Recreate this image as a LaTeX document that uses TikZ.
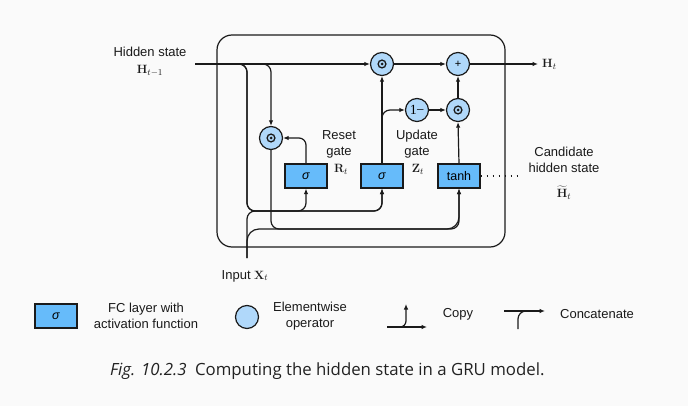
\documentclass[tikz,border=0pt]{standalone}
\usepackage[no-math]{fontspec}
\setmainfont{Liberation Sans}
\newfontfamily\capfont{Open Sans}
\newfontfamily\serifnum{Liberation Serif}
\usetikzlibrary{arrows.meta}
\definecolor{bg}{HTML}{FAFAFA}
\definecolor{fcfill}{HTML}{66BBFA}
\definecolor{opfill}{HTML}{B0D8FA}
\definecolor{ink}{HTML}{1A1A1A}
\definecolor{capink}{HTML}{222222}
\tikzset{
  wire/.style={line width=1.2pt, draw=ink},
  arr/.style={wire, -{Latex[length=5.5pt,width=4.5pt]}},
  fc/.style={draw=ink, line width=1.2pt, fill=fcfill, minimum width=42pt, minimum height=24pt, inner sep=0pt, font=\fontsize{12.5}{12.5}\selectfont},
  op/.style={circle, draw=ink, line width=1.2pt, fill=opfill, minimum size=23pt, inner sep=0pt, font=\fontsize{12}{12}\selectfont},
  mul/.style={op, path picture={
      \draw[ink, line width=1.3pt] (path picture bounding box.center) circle (3.9pt);
      \fill[ink] (path picture bounding box.center) circle (1.5pt);}},
  lbl/.style={text=ink, align=center, font=\fontsize{13}{16}\selectfont, inner sep=0pt},
}
\begin{document}
\begin{tikzpicture}[x=1pt, y=-1pt]
\useasboundingbox (0,0) rectangle (688,406);
\fill[bg] (0,0) rectangle (688,406);

% cell outline
\draw[wire, rounded corners=15pt] (217,35) rectangle (505,247);

% gates and candidate layer
\node[fc] (rsig) at (306,176) {\itshape σ};
\node[fc] (zsig) at (382,176) {\itshape σ};
\node[fc] (tanh) at (459,176) {tanh};

% elementwise operators
\node[mul] (rmul) at (271,138) {};
\node[mul] (zmul) at (382,64) {};
\node[op] (plus) at (458,64) {\fontsize{11}{11}\selectfont +};
\node[op] (omz) at (417,110) {\serifnum\fontsize{14}{14}\selectfont 1\kern-0.5pt−};
\node[mul] (cmul) at (458,110) {};

% free ends
\coordinate (hin) at (195,64);
\coordinate (hout) at (538,64);
\coordinate (xin) at (247,258);
\coordinate (dotend) at (520,176);

% previous hidden state
\draw[arr] (hin) -- (zmul);
\draw[arr, rounded corners=8pt] (hin) -| (rmul.north);
\draw[arr, rounded corners=8pt] (hin) -| (247,211) -| (rsig.south);
\draw[arr, rounded corners=8pt] (hin) -| (247,211) -| (zsig.south);

% input
\draw[arr, rounded corners=8pt] (xin) -- (247,211) -| (zsig.south);
\draw[arr, rounded corners=12pt] (xin) -- (247,229) -| (tanh.south);

% reset path
\draw[arr, rounded corners=7pt] (rsig.north) |- (rmul.east);
\draw[arr, rounded corners=8pt] (rmul.south) -- (271,229) -| (tanh.south);

% update path
\draw[arr] (zsig.north) -- (zmul.south);
\draw[arr, rounded corners=8pt] (zsig.north) |- (omz.west);
\draw[arr] (omz) -- (cmul);
\draw[arr] (tanh.north) -- (cmul.south);
\draw[arr] (cmul) -- (plus);
\draw[arr] (zmul) -- (plus);
\draw[arr] (plus) -- (hout);
\draw[wire, line width=1.4pt, dash pattern=on 1.4pt off 4.6pt] (tanh.east) -- (dotend);

% labels
\node[lbl] (lhid) at (150,52) {Hidden state};
\node[lbl] (lhprev) at (150,71) {$\mathbf{H}_{t-1}$};
\node[lbl, anchor=west] (lhout) at (542,64) {$\mathbf{H}_t$};
\node[lbl] (lreset) at (339,144) {Reset\\gate};
\node[lbl] (lr) at (341,169) {$\mathbf{R}_t$};
\node[lbl] (lupd) at (417,144) {Update\\gate};
\node[lbl] (lz) at (418,169) {$\mathbf{Z}_t$};
\node[lbl] (lcand) at (564,160) {Candidate\\hidden state};
\node[lbl] (lht) at (564,193) {$\widetilde{\mathbf{H}}_t$};
\node[lbl] (linput) at (245,276) {Input $\mathbf{X}_t$};

% legend
\node[fc] (kfc) at (56,316) {\itshape σ};
\node[lbl] (kfct) at (146,316) {FC layer with\\activation function};
\node[op] (kop) at (247,317) {};
\node[lbl] (kopt) at (310,316) {Elementwise\\operator};
\coordinate (kc1) at (387,327);
\coordinate (kc2) at (427,327);
\coordinate (kcb) at (398,327);
\coordinate (kc3) at (406,304);
\draw[arr] (kc1) -- (kc2);
\draw[arr, rounded corners=6pt] (kcb) -| (kc3);
\node[lbl] (kcopy) at (458,314) {Copy};
\coordinate (kk1) at (504,311);
\coordinate (kk2) at (545,311);
\coordinate (kk3) at (518,329);
\draw[arr] (kk1) -- (kk2);
\draw[wire, rounded corners=8pt] (kk3) |- (530,311);
\node[lbl] (kcat) at (597,314) {Concatenate};

% caption
\node[anchor=west, text=capink, inner sep=0pt, font=\capfont\fontsize{16.8}{18}\selectfont] (cap) at (110,371) {\textit{Fig. 10.2.3}\enspace Computing the hidden state in a GRU model.};
\end{tikzpicture}
\end{document}
